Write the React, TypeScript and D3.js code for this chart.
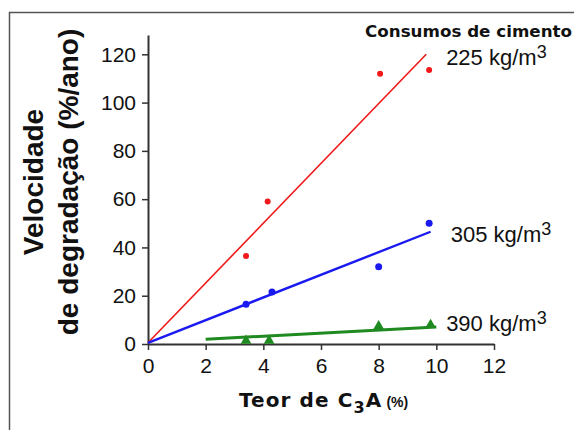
import React, { useRef, useEffect } from "react";
import { select, scaleLinear, axisLeft, axisBottom, line, symbol, symbolTriangle } from "d3";

// tick values
const xTicks = [0, 2, 4, 6, 8, 10, 12];
const yTicks = [0, 20, 40, 60, 80, 100, 120];

// measured points (C3A %, velocidade %/ano)
const c3a225 = [3.4, 4.15, 8.05, 9.75];
const vel225 = [36.5, 59, 112, 113.5];
const c3a305 = [3.4, 4.3, 8.0, 9.75];
const vel305 = [16.5, 21.5, 32, 50];
const c3a390 = [3.4, 4.2, 8.0, 9.8];
const vel390 = [1, 1, 7, 7.5];

// fitted lines, start and end
const fit225: [number, number][] = [[0, 0.5], [9.65, 120]];
const fit305: [number, number][] = [[0, 0.5], [9.8, 46.5]];
const fit390: [number, number][] = [[2, 2], [10, 7]];

const consumos = ["225", "305", "390"];
const labelAt: [number, number][] = [[10.34, 115.6], [10.5, 42.2], [10.34, 5.4]];

export default function App() {
  const svgRef = useRef<SVGSVGElement>(null);

  useEffect(() => {
    const svg = select(svgRef.current);
    svg.selectAll("*").remove();

    const x = scaleLinear().domain([0, 12]).range([148, 494]);
    const y = scaleLinear().domain([0, 128]).range([344, 35]);

    // frame
    svg.append("path")
      .attr("d", "M9.5,430 L9.5,12.5 L574,12.5")
      .attr("fill", "none")
      .attr("stroke", "#555")
      .attr("stroke-width", 1.5);

    const gy = svg.append("g").attr("transform", "translate(148,0)")
      .call(axisLeft(y).tickValues(yTicks).tickSize(6).tickPadding(6).tickSizeOuter(0));
    const gx = svg.append("g").attr("transform", "translate(0,344)")
      .call(axisBottom(x).tickValues(xTicks).tickSize(6).tickPadding(8).tickSizeOuter(0));
    [gx, gy].forEach(g => {
      g.select(".domain").attr("stroke", "#333").attr("stroke-width", 2);
      g.selectAll(".tick line").attr("stroke", "#333").attr("stroke-width", 1.5);
      g.selectAll(".tick text")
        .attr("font-family", "Liberation Sans, Arial, sans-serif")
        .attr("font-size", 21)
        .attr("fill", "#111");
    });

    const ln = line<[number, number]>().x(d => x(d[0])).y(d => y(d[1]));
    const series = [
      { xs: c3a225, ys: vel225, fit: fit225, color: "#f01818", w: 1.6, mark: "circle", r: 3 },
      { xs: c3a305, ys: vel305, fit: fit305, color: "#1a1af0", w: 2.4, mark: "circle", r: 3.5 },
      { xs: c3a390, ys: vel390, fit: fit390, color: "#1f8a1f", w: 3, mark: "tri", r: 0 },
    ];
    series.forEach(s => {
      svg.append("path").attr("d", ln(s.fit)).attr("fill", "none")
        .attr("stroke", s.color).attr("stroke-width", s.w);
      s.xs.forEach((v, i) => {
        if (s.mark === "circle") {
          svg.append("circle").attr("cx", x(v)).attr("cy", y(s.ys[i])).attr("r", s.r).attr("fill", s.color);
        } else {
          svg.append("path").attr("d", symbol().type(symbolTriangle).size(50)())
            .attr("transform", `translate(${x(v)},${y(s.ys[i]) - 1})`).attr("fill", s.color);
        }
      });
    });

    // labels
    svg.append("text").attr("x", 365).attr("y", 37)
      .attr("font-family", "DejaVu Sans, Verdana, sans-serif").attr("font-weight", "bold")
      .attr("font-size", 16.5).attr("textLength", 207).attr("lengthAdjust", "spacingAndGlyphs")
      .attr("fill", "#111").text("Consumos de cimento");

    consumos.forEach((c, i) => {
      const t = svg.append("text").attr("x", x(labelAt[i][0])).attr("y", y(labelAt[i][1]))
        .attr("font-family", "Liberation Sans, Arial, sans-serif").attr("font-size", 22).attr("fill", "#111");
      t.append("tspan").text(`${c} kg/m`);
      t.append("tspan").attr("dy", -7).attr("font-size", 18).text("3");
    });

    // y title
    const yt = svg.append("g").attr("font-family", "Liberation Sans, Arial, sans-serif")
      .attr("font-weight", "bold").attr("font-size", 28).attr("fill", "#111").attr("text-anchor", "middle");
    yt.append("text").attr("transform", "translate(43,182) rotate(-90)").text("Velocidade");
    yt.append("text").attr("transform", "translate(78,182) rotate(-90)").text("de degradação (%/ano)");

    // x title
    const xt = svg.append("text").attr("x", 239).attr("y", 407)
      .attr("font-family", "DejaVu Sans, Verdana, sans-serif").attr("font-weight", "bold")
      .attr("font-size", 20).attr("letter-spacing", 1.1).attr("fill", "#111");
    xt.append("tspan").text("Teor de C");
    xt.append("tspan").attr("dy", 6).attr("font-size", 16).text("3");
    xt.append("tspan").attr("dy", -6).text("A");
    xt.append("tspan").attr("dx", 4).attr("font-size", 14).attr("letter-spacing", 0)
      .attr("font-family", "Liberation Sans, Arial, sans-serif").text("(%)");
  }, []);

  return (
    <svg ref={svgRef} width={574} height={430}
      style={{ position: "absolute", left: 0, top: 0, background: "#fff" }} />
  );
}
